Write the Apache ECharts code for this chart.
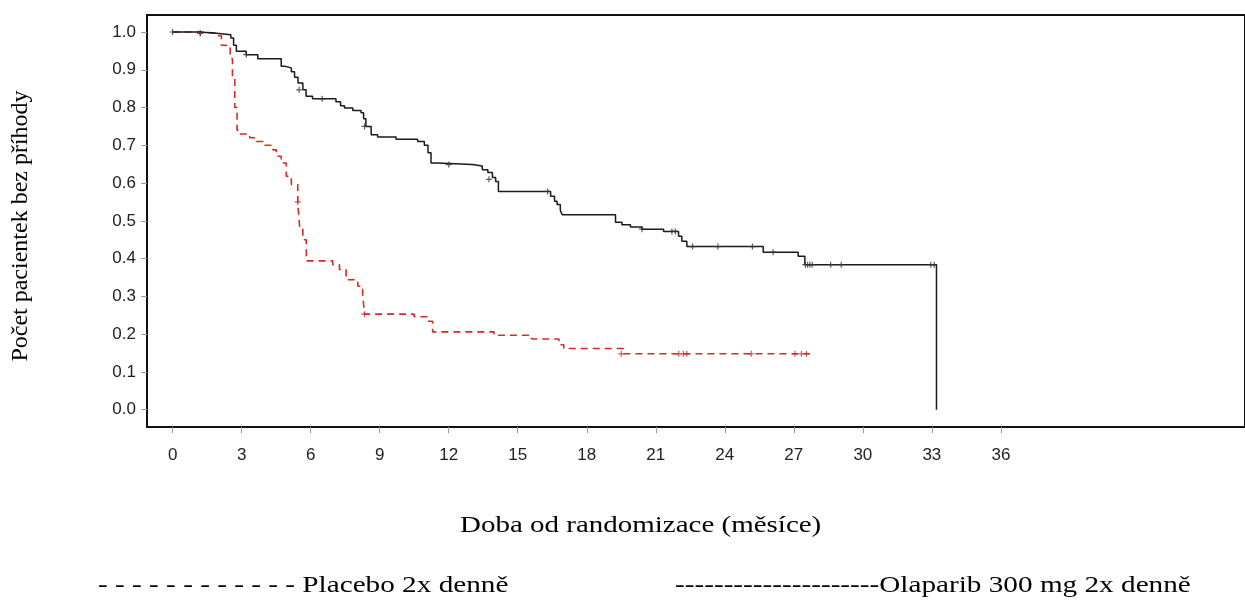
<!DOCTYPE html>
<html><head><meta charset="utf-8">
<script src="https://cdn.jsdelivr.net/npm/echarts@6/dist/echarts.min.js"></script>
<style>html,body{margin:0;padding:0;background:#fff}#c{width:1245px;height:606px}</style>
</head><body><div id="c"></div>
<script>
// Kaplan-Meier step data (time in months, survival after the step)
const olaparibTime = [0, 1.17, 1.9, 2.53, 2.65, 2.77, 3.2, 3.7, 4.72, 4.9, 5.16, 5.3, 5.45, 5.66, 5.8, 6.08, 7.1, 7.3, 7.47, 7.83, 8.19, 8.3, 8.4, 8.63, 8.91, 9.71, 10.65, 10.94, 11.1, 11.23, 11.5, 13.03, 13.46, 13.7, 13.9, 14.04, 14.16, 16.43, 16.6, 16.71, 16.85, 16.93, 19.25, 19.53, 19.9, 20.4, 21.34, 21.99, 22.13, 22.35, 25.67, 27.19, 27.48, 33.2];
const olaparibSurv = [1.0, 0.997, 0.993, 0.984, 0.965, 0.949, 0.94, 0.929, 0.909, 0.905, 0.895, 0.88, 0.865, 0.847, 0.83, 0.823, 0.815, 0.805, 0.799, 0.792, 0.786, 0.77, 0.75, 0.728, 0.722, 0.716, 0.71, 0.70, 0.68, 0.653, 0.649, 0.645, 0.635, 0.628, 0.615, 0.604, 0.578, 0.565, 0.552, 0.543, 0.528, 0.516, 0.496, 0.49, 0.484, 0.478, 0.472, 0.459, 0.446, 0.432, 0.417, 0.406, 0.384, 0.0];
const placeboTime = [0, 1.18, 1.9, 2.12, 2.34, 2.5, 2.6, 2.7, 2.8, 2.9, 3.35, 3.64, 3.93, 4.36, 4.51, 4.72, 4.94, 5.16, 5.44, 5.52, 5.66, 5.81, 6.96, 7.25, 7.54, 8.05, 8.26, 8.34, 10.5, 11.08, 11.3, 13.97, 15.6, 16.79, 17.0, 19.6, 27.7];
const placeboSurv = [1.0, 0.997, 0.99, 0.965, 0.958, 0.93, 0.88, 0.8, 0.74, 0.73, 0.72, 0.71, 0.70, 0.688, 0.671, 0.653, 0.618, 0.596, 0.547, 0.485, 0.45, 0.394, 0.384, 0.371, 0.344, 0.327, 0.304, 0.253, 0.246, 0.234, 0.206, 0.197, 0.187, 0.172, 0.162, 0.148, 0.148];
// censoring marks
const olaparibCensorTime = [0, 1.2, 3.2, 5.5, 6.5, 8.34, 12.0, 13.75, 16.3, 20.4, 21.7, 21.85, 22.6, 23.7, 25.2, 26.1, 27.5, 27.6, 27.7, 27.8, 28.6, 29.06, 32.95, 33.1];
const olaparibCensorSurv = [1.0, 0.997, 0.94, 0.847, 0.823, 0.75, 0.649, 0.61, 0.578, 0.478, 0.472, 0.472, 0.432, 0.432, 0.432, 0.417, 0.384, 0.384, 0.384, 0.384, 0.384, 0.384, 0.384, 0.384];
const placeboCensorTime = [1.2, 5.44, 8.34, 19.5, 22.0, 22.2, 22.35, 25.15, 27.05, 27.33, 27.55];
const placeboCensorSurv = [0.997, 0.55, 0.253, 0.148, 0.148, 0.148, 0.148, 0.148, 0.148, 0.148, 0.148];
// axis ticks
const xTicks = [0, 3, 6, 9, 12, 15, 18, 21, 24, 27, 30, 33, 36];
const yTicks = [0, 0.1, 0.2, 0.3, 0.4, 0.5, 0.6, 0.7, 0.8, 0.9, 1.0];
const seriesNames = ['Placebo 2x denně', 'Olaparib 300 mg 2x denně'];
const legendDashes = ['- - - - - - - - - - - - ', '---------------------'];
const xTitle = 'Doba od randomizace (měsíce)';
const yTitle = 'Počet pacientek bez příhody';

const zip = (a, b) => a.map((v, i) => [v, b[i]]);
const plus = 'path://M4,0h2v4h4v2h-4v4h-2v-4h-4v-2h4z';
const BLACK = '#1a1a1a', RED = '#d42a2a';
const serif = '"Liberation Serif", "Times New Roman", serif';
const sans = '"Liberation Sans", Arial, sans-serif';

const chart = echarts.init(document.getElementById('c'), null, {renderer: 'canvas'});
chart.setOption({
  animation: false,
  backgroundColor: '#fff',
  grid: {left: 147, top: 15, width: 1101, height: 412, show: true, borderColor: '#111', borderWidth: 2, backgroundColor: 'transparent'},
  xAxis: {
    type: 'value', min: -1.114, max: 46.61,
    axisLine: {show: false, onZero: false},
    splitLine: {show: false},
    axisTick: {show: true, inside: false, customValues: xTicks, length: 6, lineStyle: {color: '#999', width: 1}},
    axisLabel: {customValues: xTicks, margin: 20, fontSize: 17, color: '#222', fontFamily: sans}
  },
  yAxis: {
    type: 'value', min: -0.0458, max: 1.045,
    axisLine: {show: false, onZero: false},
    splitLine: {show: false},
    axisTick: {show: true, inside: false, customValues: yTicks, length: 6, lineStyle: {color: '#999', width: 1}},
    axisLabel: {customValues: yTicks, margin: 11, fontSize: 17, color: '#222', fontFamily: sans,
      formatter: v => v.toFixed(1)}
  },
  series: [
    {name: seriesNames[0], type: 'line', step: 'end', showSymbol: false, data: zip(placeboTime, placeboSurv),
     lineStyle: {color: RED, width: 1.6, type: [7, 5]}, z: 3},
    {name: seriesNames[1], type: 'line', step: 'end', showSymbol: false, data: zip(olaparibTime, olaparibSurv),
     lineStyle: {color: BLACK, width: 1.5}, z: 4},
    {name: seriesNames[0], type: 'scatter', symbol: plus, symbolSize: 6, data: zip(placeboCensorTime, placeboCensorSurv),
     itemStyle: {color: RED}, z: 5},
    {name: seriesNames[1], type: 'scatter', symbol: plus, symbolSize: 6, data: zip(olaparibCensorTime, olaparibCensorSurv),
     itemStyle: {color: '#333'}, z: 5}
  ],
  graphic: [
    {type: 'text', x: 460, y: 526, scaleX: 1.26, style: {text: xTitle, font: '23px ' + serif, fill: '#000', textAlign: 'left', textVerticalAlign: 'middle'}},
    {type: 'text', x: 21, y: 226, rotation: Math.PI / 2, style: {text: yTitle, font: '24px ' + serif, fill: '#000', textAlign: 'center', textVerticalAlign: 'middle'}},
    {type: 'text', x: 98, y: 586, scaleX: 1.27, style: {text: legendDashes[0] + seriesNames[0], font: '23px ' + serif, fill: '#000', textAlign: 'left', textVerticalAlign: 'middle'}},
    {type: 'text', x: 675, y: 586, scaleX: 1.27, style: {text: legendDashes[1] + seriesNames[1], font: '23px ' + serif, fill: '#000', textAlign: 'left', textVerticalAlign: 'middle'}}
  ]
});
</script>
</body></html>
